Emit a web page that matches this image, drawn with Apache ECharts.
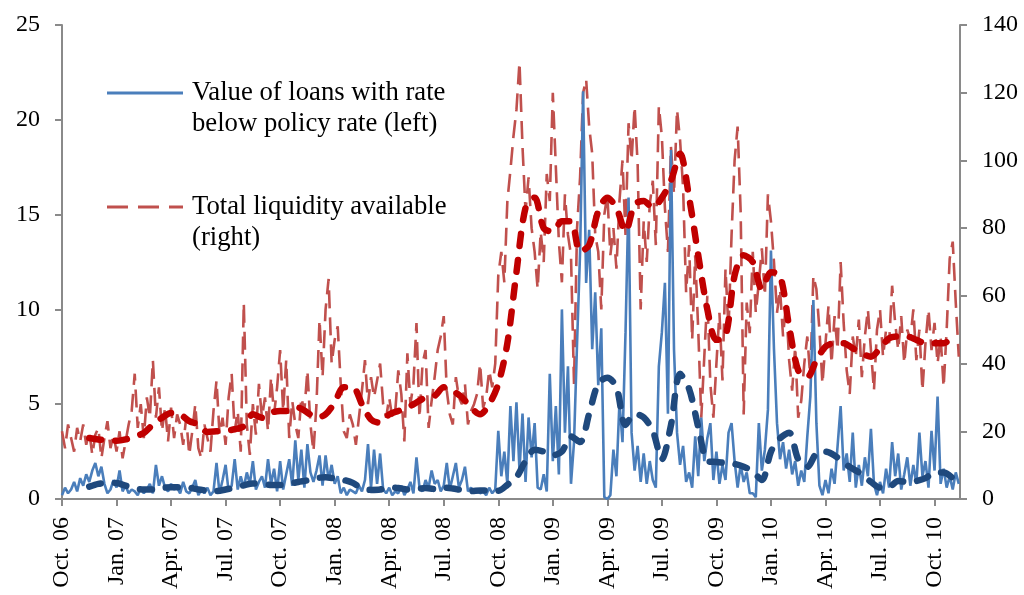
<!DOCTYPE html>
<html>
<head>
<meta charset="utf-8">
<title>Loans below policy rate and total liquidity</title>
<script src="https://cdn.jsdelivr.net/npm/echarts@6/dist/echarts.min.js"></script>
<style>
  html, body { margin: 0; padding: 0; background: #ffffff; }
  #chart { width: 1024px; height: 595px; }
</style>
</head>
<body>
<div id="chart"></div>
<script>
// Quarterly tick labels, one every 3 months starting Oct. 2006
const tickLabels = ['Oct. 06','Jan. 07','Apr. 07','Jul. 07','Oct. 07','Jan. 08','Apr. 08','Jul. 08',
  'Oct. 08','Jan. 09','Apr. 09','Jul. 09','Oct. 09','Jan. 10','Apr. 10','Jul. 10','Oct. 10'];

// Observations every 1/6 month (about 5 days), six per month from Oct. 2006
const sampleStep = 1 / 6;

// Value of loans with rate below policy rate (left axis)
const loansBelowPolicy = [
  0.2, 0.6, 0.3, 0.5, 0.9, 0.4,
  1.1, 0.7, 1.3, 0.9, 1.5, 1.9,
  1.2, 1.7, 0.8, 0.3, 0.5, 1.0,
  0.6, 1.5, 0.4, 0.7, 0.3, 0.5,
  0.4, 0.2, 0.6, 0.3, 0.5, 0.8,
  0.3, 1.8, 0.7, 1.2, 0.6, 0.4,
  0.8, 0.5, 0.6, 0.3, 0.9, 0.4,
  0.3, 0.6, 1.0, 0.2, 0.5, 0.3,
  0.6, 0.2, 0.4, 1.9, 0.3, 1.0,
  1.8, 0.4, 0.7, 2.1, 0.5, 1.2,
  0.6, 1.4, 0.8, 2.0, 0.5, 0.9,
  1.2, 0.6, 2.1, 0.8, 1.6, 0.4,
  2.0, 0.5, 1.3, 2.1, 0.7, 3.1,
  1.0, 2.6, 0.6, 2.9, 1.4, 0.9,
  1.5, 2.3, 0.7, 2.3, 1.0, 1.8,
  0.8, 1.2, 0.3, 0.6, 0.2, 0.5,
  0.4, 0.3, 0.7, 0.4, 1.0, 2.9,
  0.6, 2.6, 0.8, 2.4, 0.5, 0.3,
  0.6, 0.2, 0.4, 0.3, 0.7, 0.2,
  0.5, 0.9, 0.3, 2.2, 0.6, 0.4,
  1.0, 0.6, 1.5, 0.8, 1.0, 0.4,
  0.7, 1.9, 0.5, 1.2, 1.9, 0.6,
  1.0, 1.7, 0.4, 0.6, 0.3, 0.5,
  0.3, 0.4, 0.2, 0.6, 0.3, 0.5,
  3.6, 1.2, 2.5, 0.8, 4.9, 2.0,
  5.1, 1.5, 4.5, 0.9, 4.3, 2.2,
  4.0, 0.6, 0.5, 1.3, 0.4, 6.6,
  2.0, 4.9, 1.3, 10.0, 3.5, 7.0,
  0.8, 3.0, 8.2, 13.0, 21.5, 11.4,
  14.2, 7.9, 10.9, 6.0, 9.0, 0.1,
  0.0, 0.2, 2.6, 1.2, 5.1, 3.0,
  8.8, 15.9, 3.5, 1.5, 2.8, 0.9,
  2.4, 0.8, 2.0, 1.0, 0.6, 7.0,
  8.8, 11.4, 4.5, 18.4, 7.9, 3.5,
  1.8, 2.8, 0.9, 1.4, 0.6, 3.3,
  1.2, 4.3, 2.0, 3.2, 4.0, 1.0,
  2.5, 0.8, 1.8, 1.0, 3.5, 4.0,
  2.0, 0.6, 1.8, 0.9, 1.4, 0.3,
  0.3, 0.1, 4.0, 1.5, 2.6, 4.7,
  13.1, 7.9, 4.0, 2.1, 3.0, 1.6,
  2.6, 1.3, 2.0, 0.7, 1.5, 0.9,
  3.3, 5.4, 10.5, 4.0, 0.7, 0.2,
  1.0, 0.3, 1.6, 0.8, 2.8, 4.9,
  1.5, 2.4, 0.9, 3.5, 0.6, 1.8,
  0.7, 2.2, 1.2, 3.7, 0.8, 0.2,
  0.9, 0.3, 1.6, 0.6, 3.0, 1.2,
  2.4, 0.5, 1.3, 2.2, 0.7, 1.8,
  0.8, 3.5, 1.2, 2.0, 0.6, 3.6,
  1.5, 5.4, 0.8, 1.6, 0.6, 1.2,
  0.5, 1.4, 0.8
];

// Total liquidity available (right axis)
const totalLiquidity = [
  20, 15, 22, 18, 14, 21,
  17, 22, 16, 20, 13, 19,
  21, 12, 18, 23, 15, 19,
  14, 20, 12, 17, 22, 26,
  37, 21, 28, 18, 30, 24,
  41, 24, 33, 20, 27, 17,
  27, 18, 25, 22, 16, 24,
  13, 20, 28, 15, 12, 22,
  18, 14, 26, 35, 19, 24,
  16, 30, 37, 20, 26, 14,
  58, 22, 13, 28, 19, 34,
  24, 30, 20, 36, 25, 33,
  44, 26, 41, 18, 29, 22,
  18, 30, 26, 38, 22, 14,
  28, 53, 36, 56, 65, 40,
  47, 51, 34, 20, 18, 25,
  22, 16, 24, 32, 41, 28,
  36, 30, 35, 40, 28, 24,
  30, 24, 26, 38, 31, 17,
  43, 28, 34, 52, 24, 40,
  44, 21, 29, 36, 44, 48,
  54, 32, 25, 22, 36, 30,
  28, 34, 22, 26, 28, 31,
  40, 27, 30, 38, 33, 40,
  66, 73, 64, 88, 97, 107,
  115, 129, 104, 85, 95, 80,
  73, 62, 79, 70, 96, 88,
  120, 98, 76, 64, 90, 78,
  72, 34, 80, 95, 120, 124,
  110, 102, 78, 73, 56, 84,
  90, 72, 80, 68, 88, 100,
  78, 111, 100, 116, 99, 56,
  82, 70, 87, 94, 75, 116,
  107, 86, 73, 104, 90, 115,
  106, 92, 61, 75, 47, 72,
  50, 24, 42, 60, 34, 24,
  40, 55, 35, 68, 50, 78,
  100, 110, 85, 25, 58, 49,
  73, 55, 64, 74, 60, 90,
  82, 70, 55, 62, 48, 58,
  41, 32, 45, 24, 29, 40,
  48, 36, 66, 62, 50, 34,
  46, 57, 40, 54, 44, 70,
  52, 38, 31, 48, 42, 53,
  36, 48, 56, 44, 32, 50,
  56, 42, 50, 46, 63, 52,
  44, 54, 40, 50, 47, 56,
  41, 50, 32, 46, 56, 44,
  52, 40, 48, 33, 50, 71,
  76, 58, 42
];

// Moving averages, every half month from mid-Nov. 2006
const maStart = 1.5;
const maStep = 0.5;

const loansAverage = [
  0.65, 0.8, 0.85, 0.84, 0.7, 0.55, 0.5, 0.5, 0.58, 0.62,
  0.62, 0.6, 0.5, 0.45, 0.42, 0.5, 0.6, 0.72, 0.82, 0.8,
  0.74, 0.74, 0.8, 0.9, 0.98, 1.1, 1.15, 1.08, 1.0, 0.85,
  0.56, 0.48, 0.5, 0.62, 0.58, 0.5, 0.52, 0.58, 0.53, 0.6,
  0.55, 0.47, 0.42, 0.45, 0.45, 0.44, 0.75, 1.15, 2.0, 2.6,
  2.5, 2.3, 2.5, 3.3, 3.0, 4.5, 6.1, 6.4, 5.9, 3.9,
  4.5, 4.3, 3.6, 2.1, 3.9, 6.6, 5.8, 3.8, 2.0, 1.95,
  1.9, 1.85, 1.7, 1.45, 1.0, 2.5, 3.2, 3.5, 2.1, 1.7,
  2.4, 2.5, 2.3, 1.9, 1.6, 1.3, 0.9, 0.6, 0.63, 0.95,
  0.9, 0.95, 1.1, 1.4, 1.4, 1.1
];

const liquidityAverage = [
  18, 17.6, 17.4, 17.2, 17.6, 18.5, 19.5, 22, 24, 25.4,
  25, 23, 22, 19.8, 20, 20.2, 20.6, 21.5, 25, 24,
  25.5, 26, 26, 27, 25.5, 24, 25, 28.5, 33, 33,
  28, 23.5, 22.5, 25, 26, 27, 28.5, 30, 30.5, 33,
  32, 30, 27, 25, 28, 34, 46, 67, 86, 89,
  80, 79, 82, 82, 73, 75, 85, 89, 86, 79,
  87, 88, 86, 89, 94, 102, 89, 72, 56, 47,
  48, 66, 72, 70, 62, 67, 66, 51, 38, 36,
  41, 45, 46, 46, 44.5, 43, 42, 44.5, 47.5, 48,
  48, 47, 46, 46, 46, 48
];

const seriesNames = ['Value of loans with rate\nbelow policy rate (left)', 'Total liquidity available\n(right)'];

const serif = "'Liberation Serif', 'Times New Roman', 'DejaVu Serif', serif";
const axisGray = '#8a8a8a';

const toDaily = arr => arr.map((v, i) => [i * sampleStep, v]);
const toAverage = arr => arr.map((v, i) => [maStart + i * maStep, v]);

const yAxisBase = {
  type: 'value',
  min: 0,
  splitLine: { show: false },
  axisLine: { show: true, lineStyle: { color: axisGray, width: 2 } },
  axisTick: { show: true, length: 7, lineStyle: { color: axisGray, width: 2 } },
  axisLabel: { color: '#000', fontFamily: serif, fontSize: 24, margin: 22 }
};

const chart = echarts.init(document.getElementById('chart'), null, { renderer: 'canvas' });

chart.setOption({
  animation: false,
  backgroundColor: '#ffffff',
  grid: { left: 62, right: 64, top: 25, bottom: 96, containLabel: false },
  xAxis: {
    type: 'value',
    min: 0,
    max: 49.4,
    interval: 3,
    splitLine: { show: false },
    axisLine: { show: true, onZero: false, lineStyle: { color: axisGray, width: 2 } },
    axisTick: { show: true, length: 7, lineStyle: { color: axisGray, width: 2 } },
    axisLabel: {
      color: '#000',
      fontFamily: serif,
      fontSize: 24,
      rotate: 90,
      margin: 18,
      showMaxLabel: false,
      formatter: v => {
        const k = Math.round(v / 3);
        return Math.abs(v - k * 3) < 1e-6 && tickLabels[k] ? tickLabels[k] : '';
      }
    }
  },
  yAxis: [
    Object.assign({}, yAxisBase, { position: 'left', max: 25, interval: 5 }),
    Object.assign({}, yAxisBase, { position: 'right', max: 140, interval: 20 })
  ],
  series: [
    {
      name: seriesNames[1],
      type: 'line',
      yAxisIndex: 1,
      data: toDaily(totalLiquidity),
      showSymbol: false,
      lineStyle: { color: '#c0504d', width: 2.6, type: [18, 9] },
      z: 2
    },
    {
      name: seriesNames[0],
      type: 'line',
      yAxisIndex: 0,
      data: toDaily(loansBelowPolicy),
      showSymbol: false,
      lineStyle: { color: '#4a7ebb', width: 2.6 },
      z: 3
    },
    {
      name: 'Total liquidity, moving average',
      type: 'line',
      yAxisIndex: 1,
      data: toAverage(liquidityAverage),
      showSymbol: false,
      smooth: 0.3,
      lineStyle: { color: '#c00000', width: 6.5, type: [12, 14], cap: 'round', join: 'round' },
      z: 4
    },
    {
      name: 'Loans below policy rate, moving average',
      type: 'line',
      yAxisIndex: 0,
      data: toAverage(loansAverage),
      showSymbol: false,
      smooth: 0.3,
      lineStyle: { color: '#1f497d', width: 6.5, type: [12, 14], cap: 'round', join: 'round' },
      z: 5
    }
  ],
  graphic: [
    { type: 'line', shape: { x1: 107, y1: 93, x2: 183, y2: 93 },
      style: { stroke: '#4a7ebb', lineWidth: 3 } },
    { type: 'text', x: 192, y: 77.5,
      style: { text: seriesNames[0], fill: '#000', font: '26.7px ' + serif, lineHeight: 31, verticalAlign: 'top' } },
    { type: 'line', shape: { x1: 107, y1: 207, x2: 183, y2: 207 },
      style: { stroke: '#c0504d', lineWidth: 3, lineDash: [21, 10] } },
    { type: 'text', x: 192, y: 191.5,
      style: { text: seriesNames[1], fill: '#000', font: '26.7px ' + serif, lineHeight: 31, verticalAlign: 'top' } }
  ]
});
</script>
</body>
</html>
